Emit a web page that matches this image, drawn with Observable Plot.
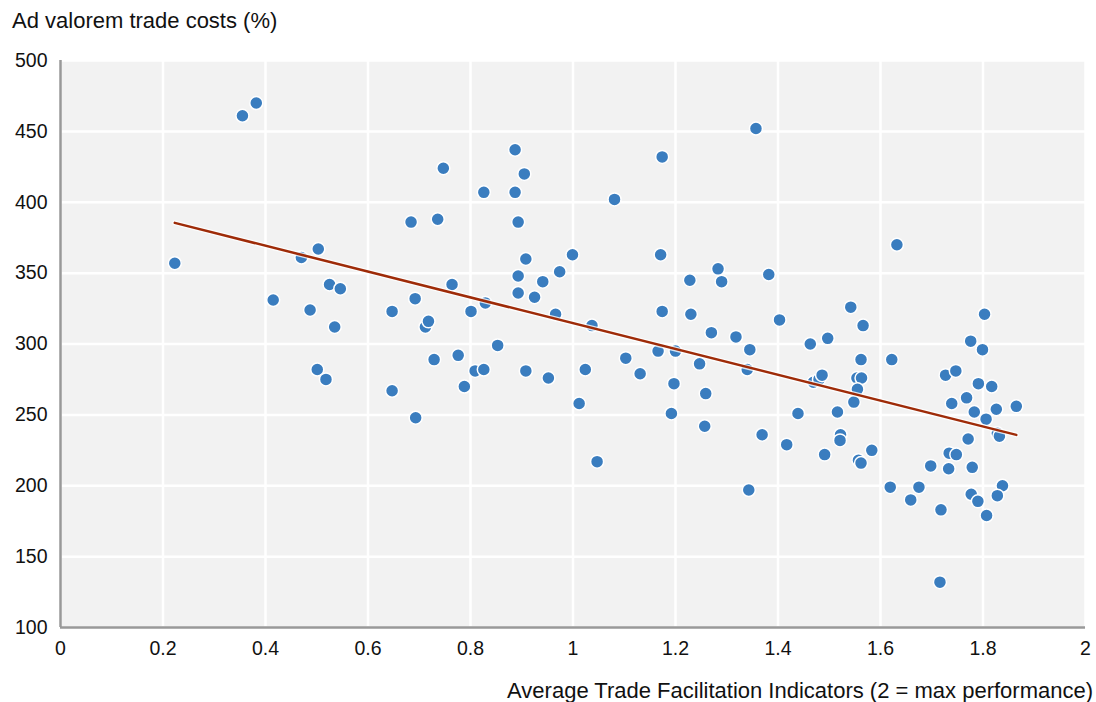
<!DOCTYPE html>
<html>
<head>
<meta charset="utf-8">
<script src="https://cdn.jsdelivr.net/npm/d3@7"></script>
<script src="https://cdn.jsdelivr.net/npm/@observablehq/plot@0.6"></script>
<style>
  html, body { margin: 0; padding: 0; background: #fff; }
  body { width: 1096px; height: 702px; position: relative; overflow: hidden; font-family: "Liberation Sans", Arial, sans-serif; color: #111; }
  #ytitle { position: absolute; left: 12px; top: 8px; font-size: 22px; white-space: nowrap; }
  #xtitle { position: absolute; right: 3px; top: 678px; font-size: 22px; white-space: nowrap; }
  #chart { position: absolute; left: 0; top: 0; }
</style>
</head>
<body>
<div id="chart"></div>
<div id="ytitle"></div>
<div id="xtitle"></div>
<script>
const yTitle = "Ad valorem trade costs (%)";
const xTitle = "Average Trade Facilitation Indicators (2 = max performance)";
const xTicks = [0, 0.2, 0.4, 0.6, 0.8, 1, 1.2, 1.4, 1.6, 1.8, 2];
const yTicks = [100, 150, 200, 250, 300, 350, 400, 450, 500];

// Average TFI score per country
const tfi = [
  0.223, 0.355, 0.382, 0.415, 0.470, 0.503, 0.487, 0.525, 0.546, 0.535,
  0.647, 0.684, 0.692, 0.712, 0.718, 0.736, 0.747, 0.764, 0.801, 0.826,
  0.829, 0.887, 0.887, 0.905, 0.893, 0.908, 0.893, 0.893, 0.925, 0.941,
  0.966, 0.974, 0.999, 1.037, 1.081, 1.171, 1.174, 1.174, 1.228, 1.230,
  1.283, 1.290, 1.270, 1.318, 1.357, 1.382, 1.403, 1.463, 1.497, 1.542,
  1.566, 1.632, 1.803, 1.776, 0.501, 0.518, 0.647, 0.693, 0.729, 0.776,
  0.788, 0.809, 0.826, 0.853, 0.908, 0.952, 1.799, 1.024, 1.012, 1.103,
  1.131, 1.166, 1.200, 1.197, 1.192, 1.247, 1.259, 1.257, 1.345, 1.340,
  1.047, 1.343, 1.369, 1.417, 1.439, 1.469, 1.480, 1.486, 1.516, 1.522,
  1.521, 1.491, 1.562, 1.554, 1.563, 1.555, 1.548, 1.557, 1.562, 1.583,
  1.622, 1.619, 1.659, 1.675, 1.698, 1.718, 1.716, 1.727, 1.747, 1.739,
  1.734, 1.748, 1.733, 1.768, 1.771, 1.783, 1.779, 1.777, 1.790, 1.791,
  1.806, 1.817, 1.826, 1.828, 1.832, 1.807, 1.838, 1.828, 1.865
];
// Ad valorem trade costs (%) per country
const cost = [
  357, 461, 470, 331, 361, 367, 324, 342, 339, 312,
  323, 386, 332, 312, 316, 388, 424, 342, 323, 407,
  329, 437, 407, 420, 386, 360, 348, 336, 333, 344,
  321, 351, 363, 313, 402, 363, 432, 323, 345, 321,
  353, 344, 308, 305, 452, 349, 317, 300, 304, 326,
  313, 370, 321, 302, 282, 275, 267, 248, 289, 292,
  270, 281, 282, 299, 281, 276, 296, 282, 258, 290,
  279, 295, 295, 272, 251, 286, 265, 242, 296, 282,
  217, 197, 236, 229, 251, 273, 275, 278, 252, 236,
  232, 222, 289, 276, 276, 268, 259, 218, 216, 225,
  289, 199, 190, 199, 214, 183, 132, 278, 281, 258,
  223, 222, 212, 262, 233, 252, 213, 194, 189, 272,
  247, 270, 254, 237, 235, 179, 200, 193, 256
];

const data = tfi.map((x, i) => ({x, y: cost[i]}));

document.getElementById("ytitle").textContent = yTitle;
document.getElementById("xtitle").textContent = xTitle;

const chart = Plot.plot({
  width: 1096,
  height: 702,
  marginTop: 60,
  marginBottom: 75,
  marginLeft: 60,
  marginRight: 11,
  style: {fontFamily: "Liberation Sans, Arial, sans-serif", fontSize: "19.5px", color: "#111", background: "transparent"},
  x: {domain: [0, 2], ticks: xTicks, label: null},
  y: {domain: [100, 500], ticks: yTicks, label: null},
  marks: [
    Plot.frame({fill: "#f2f2f2", stroke: "none"}),
    Plot.gridX(xTicks, {stroke: "#ffffff", strokeOpacity: 1, strokeWidth: 2.5}),
    Plot.gridY(yTicks, {stroke: "#ffffff", strokeOpacity: 1, strokeWidth: 2.5}),
    Plot.axisX({ticks: xTicks, tickSize: 0, tickPadding: 14, label: null, fontSize: 19.5, tickFormat: d => String(d)}),
    Plot.axisY({ticks: yTicks, tickSize: 0, tickPadding: 13, label: null, fontSize: 19.5, tickFormat: d => String(d)}),
    Plot.ruleX([0], {stroke: "#999999", strokeWidth: 2.5}),
    Plot.ruleY([100], {stroke: "#999999", strokeWidth: 2.5}),
    Plot.dot(data, {x: "x", y: "y", r: 6.5, fill: "#3a7dbf", stroke: "#ffffff", strokeWidth: 1.5}),
    Plot.linearRegressionY(data, {x: "x", y: "y", stroke: "#ffffff", strokeWidth: 5, ci: 0, strokeOpacity: 0.8}),
    Plot.linearRegressionY(data, {x: "x", y: "y", stroke: "#9e2b08", strokeWidth: 2.5, ci: 0})
  ]
});
document.getElementById("chart").appendChild(chart);
</script>
</body>
</html>
